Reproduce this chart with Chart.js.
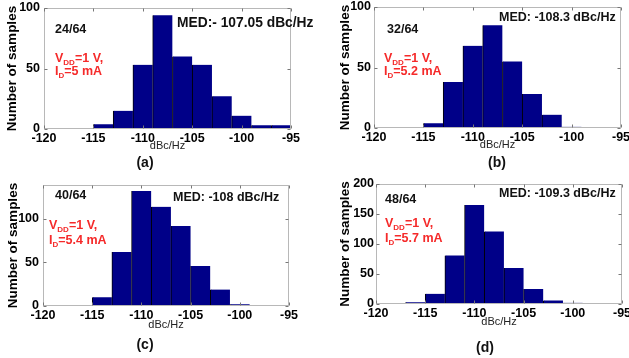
<!DOCTYPE html>
<html>
<head>
<meta charset="utf-8">
<script src="https://cdn.jsdelivr.net/npm/chart.js@4/dist/chart.umd.min.js"></script>
<style>
  body { margin: 0; background: #fff; }
  #wrap { position: relative; width: 629px; height: 358px; overflow: hidden; background: #fff; font-family: Arial, "Liberation Sans", sans-serif; }
  canvas { position: absolute; }
  .t { position: absolute; font-weight: bold; font-size: 12.5px; line-height: 14px; color: #111; white-space: nowrap; }
  .red { color: #f52a2a; }
  .red sub { font-size: 8px; vertical-align: -3px; line-height: 0; }
  .cap { position: absolute; font-weight: bold; font-size: 14px; line-height: 16px; color: #111; transform: translateX(-50%); }
</style>
</head>
<body>
<div id="wrap">
  <canvas id="ca" width="315" height="175" style="left:0;top:0"></canvas>
  <canvas id="cb" width="314" height="175" style="left:315px;top:0"></canvas>
  <canvas id="cc" width="315" height="183" style="left:0;top:175px"></canvas>
  <canvas id="cd" width="314" height="183" style="left:315px;top:175px"></canvas>

  <div class="t" style="left:55px;top:22px">24/64</div>
  <div class="t" style="left:177px;top:15px;font-size:13.8px;line-height:16px">MED:- 107.05 dBc/Hz</div>
  <div class="t red" style="left:55px;top:51px">V<sub>DD</sub>=1 V,</div>
  <div class="t red" style="left:55px;top:64px">I<sub>D</sub>=5 mA</div>
  <div class="cap" style="left:145px;top:154px">(a)</div>

  <div class="t" style="left:387px;top:22px">32/64</div>
  <div class="t" style="left:499px;top:10px">MED: -108.3 dBc/Hz</div>
  <div class="t red" style="left:384px;top:51px">V<sub>DD</sub>=1 V,</div>
  <div class="t red" style="left:384px;top:64px">I<sub>D</sub>=5.2 mA</div>
  <div class="cap" style="left:497px;top:154px">(b)</div>

  <div class="t" style="left:55px;top:188px">40/64</div>
  <div class="t" style="left:173px;top:190px">MED: -108 dBc/Hz</div>
  <div class="t red" style="left:49px;top:218px">V<sub>DD</sub>=1 V,</div>
  <div class="t red" style="left:49px;top:233px">I<sub>D</sub>=5.4 mA</div>
  <div class="cap" style="left:145px;top:336px">(c)</div>

  <div class="t" style="left:385px;top:192px">48/64</div>
  <div class="t" style="left:499px;top:186px">MED: -109.3 dBc/Hz</div>
  <div class="t red" style="left:385px;top:216px">V<sub>DD</sub>=1 V,</div>
  <div class="t red" style="left:385px;top:231px">I<sub>D</sub>=5.7 mA</div>
  <div class="cap" style="left:485px;top:339px">(d)</div>
</div>
<script>
// bin centres (dBc/Hz) and counts per panel
const binsA = [-114, -112, -110, -108, -106, -104, -102, -100, -98, -96];
const countsA = [4, 15, 53, 94, 60, 53, 27, 11, 3, 3];

const binsB = [-114, -112, -110, -108, -106, -104, -102, -100];
const countsB = [4, 38, 68, 85, 55, 28, 11, 1];

const binsC = [-114, -112, -110, -108, -106, -104, -102, -100];
const countsC = [10, 62, 132, 114, 92, 46, 19, 2];

const binsD = [-116, -114, -112, -110, -108, -106, -104, -102, -100];
const countsD = [3, 17, 81, 165, 121, 60, 25, 6, 2];

const xMin = -120, xMax = -95, xStep = 5;
const yMaxA = 100, yMaxB = 100, yMaxC = 139, yMaxD = 200;
const yStep = 50;

const BAR = '#000088';
const FONT = 'Arial, "Liberation Sans", sans-serif';

// matlab-like box with inward ticks on all four sides
const boxPlugin = {
  id: 'box',
  afterDatasetsDraw(chart) {
    const { ctx, chartArea: a, scales: { x, y } } = chart;
    const L = Math.round(a.left) + 0.5, R = Math.round(a.right) - 0.5;
    const T = Math.round(a.top) + 0.5, B = Math.round(a.bottom) - 0.5;
    ctx.save();
    ctx.strokeStyle = '#b8b8b8';
    ctx.lineWidth = 1;
    ctx.strokeRect(L, T, R - L, B - T);
    ctx.strokeStyle = '#777';
    ctx.beginPath();
    x.ticks.forEach(t => {
      const px = Math.round(x.getPixelForValue(t.value)) + 0.5;
      ctx.moveTo(px, B); ctx.lineTo(px, B - 3);
      ctx.moveTo(px, T); ctx.lineTo(px, T + 3);
    });
    y.ticks.forEach(t => {
      const py = Math.round(y.getPixelForValue(t.value)) + 0.5;
      ctx.moveTo(L, py); ctx.lineTo(L + 3, py);
      ctx.moveTo(R, py); ctx.lineTo(R - 3, py);
    });
    ctx.stroke();
    ctx.restore();
  }
};

function makePanel(id, bins, counts, yMax, lay) {
  const ctx = document.getElementById(id).getContext('2d');
  return new Chart(ctx, {
    type: 'bar',
    data: {
      datasets: [{
        data: bins.map((b, i) => ({ x: b, y: counts[i] })),
        backgroundColor: BAR,
        borderColor: '#000',
        borderWidth: { left: 1, right: 0, top: 0, bottom: 0 },
        borderSkipped: false,
        barPercentage: 1,
        categoryPercentage: 1
      }]
    },
    options: {
      responsive: false,
      animation: false,
      devicePixelRatio: 1,
      layout: { padding: { left: 0, right: lay.right, top: lay.top, bottom: lay.bottom } },
      plugins: { legend: { display: false }, tooltip: { enabled: false } },
      scales: {
        x: {
          type: 'linear',
          offset: false,
          min: xMin,
          max: xMax,
          grid: { display: false, drawTicks: false },
          border: { display: false },
          ticks: { stepSize: xStep, padding: 2, color: '#000', font: { family: FONT, size: 12.5, weight: 'bold' } },
          title: { display: true, text: 'dBc/Hz', color: '#222', padding: 0, font: { family: FONT, size: 11 } },
          afterFit: s => { s.height = lay.xh; s.paddingLeft = 0; s.paddingRight = 0; }
        },
        y: {
          min: 0,
          max: yMax,
          grid: { display: false, drawTicks: false },
          border: { display: false },
          ticks: { stepSize: yStep, padding: lay.tp, color: '#000', font: { family: FONT, size: 12.5, weight: 'bold' } },
          title: { display: true, text: 'Number of samples', color: '#000', padding: { top: lay.yt, bottom: 0 }, font: { family: FONT, size: 13.5, weight: 'bold' } },
          afterBuildTicks: s => { s.ticks = s.ticks.filter(t => t.value % yStep === 0); },
          afterFit: s => { s.width = lay.yw; s.paddingTop = 0; s.paddingBottom = 0; }
        }
      }
    },
    plugins: [boxPlugin]
  });
}

makePanel('ca', binsA, countsA, yMaxA, { yw: 44, right: 24, top: 8, bottom: 22, xh: 24, tp: 4, yt: 4 });
makePanel('cb', binsB, countsB, yMaxB, { yw: 59, right: 8, top: 7, bottom: 23, xh: 24, tp: 3, yt: 22 });
makePanel('cc', binsC, countsC, yMaxC, { yw: 43, right: 26, top: 10, bottom: 26, xh: 26, tp: 4, yt: 5 });
makePanel('cd', binsD, countsD, yMaxD, { yw: 61, right: 7, top: 9, bottom: 29, xh: 25, tp: 2, yt: 22 });
</script>
</body>
</html>
